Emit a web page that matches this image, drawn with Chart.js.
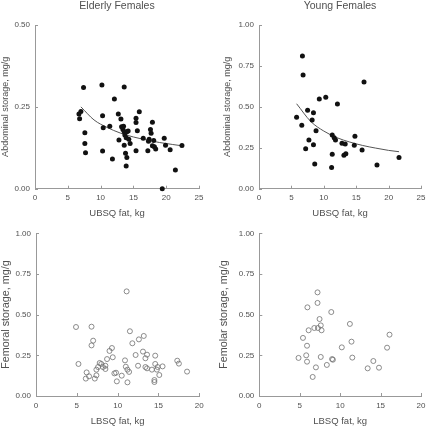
<!DOCTYPE html>
<html>
<head>
<meta charset="utf-8">
<script src="https://cdn.jsdelivr.net/npm/chart.js@4.4.1/dist/chart.umd.min.js"></script>
<style>
    html, body { margin: 0; padding: 0; background: #fff; }
    #wrap { position: relative; width: 427px; height: 427px; overflow: hidden; }
    .cell { position: absolute; }
</style>
</head>
<body>
<div id="wrap">
    <div class="cell" style="left:0;top:0;width:213px;height:222px;"><canvas id="elderlyAbd"></canvas></div>
    <div class="cell" style="left:213px;top:0;width:214px;height:222px;"><canvas id="youngAbd"></canvas></div>
    <div class="cell" style="left:0;top:222px;width:213px;height:205px;"><canvas id="elderlyFem"></canvas></div>
    <div class="cell" style="left:213px;top:222px;width:214px;height:205px;"><canvas id="youngFem"></canvas></div>
</div>
<script>
// Elderly females: UBSQ fat (kg) vs abdominal storage (mg/g)
const elderlyUbsq = [6.8, 7.4, 7.0, 6.7, 10.2, 12.1, 13.6, 10.3, 10.4, 7.6, 7.6, 7.7, 10.3, 11.4,
    12.7, 13.1, 13.2, 13.5, 13.4, 13.6, 13.7, 14.0, 14.2, 13.9, 14.3, 13.6, 12.8, 11.8, 13.8, 14.0,
    13.9, 14.5, 15.4, 15.4, 15.9, 15.6, 16.5, 15.4, 17.9, 17.6, 17.7, 17.4, 17.3, 18.1, 17.9, 18.2,
    18.4, 17.2, 19.7, 19.9, 20.6, 22.4, 21.4, 19.4];
const elderlyAbd = [0.214, 0.309, 0.236, 0.228, 0.317, 0.274, 0.311, 0.223, 0.186, 0.171, 0.138, 0.110,
    0.115, 0.191, 0.228, 0.213, 0.189, 0.191, 0.181, 0.174, 0.164, 0.174, 0.176, 0.156, 0.151, 0.133,
    0.149, 0.091, 0.108, 0.095, 0.069, 0.138, 0.202, 0.215, 0.235, 0.177, 0.154, 0.116, 0.203, 0.181,
    0.169, 0.151, 0.145, 0.147, 0.131, 0.128, 0.121, 0.116, 0.154, 0.133, 0.119, 0.132, 0.057, 0.000];
const elderlyFitX = [7, 9, 11, 13, 15, 17, 19, 21, 22.4];
const elderlyFitY = [0.25, 0.21, 0.187, 0.17, 0.158, 0.149, 0.141, 0.135, 0.131];

// Young females: UBSQ fat (kg) vs abdominal storage (mg/g)
const youngUbsq = [6.7, 6.8, 5.8, 6.6, 7.5, 8.4, 8.2, 8.8, 7.7, 7.2, 8.4, 8.6, 9.3, 10.3, 12.1,
    11.3, 11.6, 11.8, 11.3, 11.2, 12.8, 13.3, 13.1, 13.4, 14.8, 14.7, 16.2, 15.9, 18.2, 21.6];
const youngAbd = [0.81, 0.694, 0.436, 0.387, 0.479, 0.464, 0.42, 0.354, 0.297, 0.244, 0.269, 0.151,
    0.548, 0.558, 0.517, 0.328, 0.312, 0.297, 0.21, 0.13, 0.277, 0.273, 0.204, 0.214, 0.32, 0.265,
    0.652, 0.236, 0.145, 0.191];
const youngFitX = [5.8, 8, 10, 12, 14, 16, 18, 20, 21.6];
const youngFitY = [0.519, 0.41, 0.352, 0.312, 0.285, 0.264, 0.248, 0.234, 0.226];

// Elderly females: LBSQ fat (kg) vs femoral storage (mg/g)
const elderlyLbsq = [4.9, 5.2, 6.1, 6.2, 6.5, 6.8, 7.0, 6.8, 7.2, 7.4, 7.4, 7.6, 7.8, 8.0, 8.2, 8.5,
    8.5, 8.7, 9.0, 9.3, 9.4, 9.6, 9.8, 9.9, 10.5, 10.9, 11.0, 11.1, 11.2, 11.4, 11.2, 11.5, 11.8,
    12.2, 12.5, 12.6, 13.1, 13.2, 13.4, 13.4, 13.6, 13.6, 14.2, 14.6, 14.6, 14.5, 14.5, 14.8, 14.9,
    15.1, 15.5, 17.3, 17.5, 18.5];
const elderlyFem = [0.424, 0.197, 0.107, 0.145, 0.121, 0.426, 0.34, 0.311, 0.107, 0.127, 0.162, 0.178,
    0.203, 0.197, 0.178, 0.186, 0.166, 0.227, 0.277, 0.295, 0.238, 0.139, 0.143, 0.09, 0.125, 0.219,
    0.18, 0.643, 0.162, 0.148, 0.084, 0.398, 0.324, 0.252, 0.186, 0.348, 0.273, 0.369, 0.232, 0.178,
    0.254, 0.17, 0.162, 0.248, 0.197, 0.098, 0.086, 0.162, 0.178, 0.129, 0.182, 0.217, 0.199, 0.15];

// Young females: LBSQ fat (kg) vs femoral storage (mg/g)
const youngLbsq = [4.85, 5.4, 5.8, 5.9, 5.9, 5.95, 6.1, 6.6, 6.8, 7.0, 7.2, 7.2, 7.25, 7.45, 7.6,
    7.7, 7.6, 8.35, 8.9, 9.0, 9.1, 10.2, 11.2, 11.4, 11.5, 13.4, 14.1, 14.8, 15.8, 16.1];
const youngFem = [0.234, 0.357, 0.25, 0.309, 0.211, 0.545, 0.404, 0.117, 0.418, 0.176, 0.637, 0.572,
    0.418, 0.473, 0.434, 0.404, 0.24, 0.191, 0.516, 0.227, 0.223, 0.299, 0.443, 0.334, 0.236, 0.17,
    0.215, 0.174, 0.297, 0.377];

const ticksX25 = [0, 5, 10, 15, 20, 25];
const ticksX20 = [0, 5, 10, 15, 20];
const ticksY050 = [0, 0.25, 0.5];
const ticksY100 = [0, 0.25, 0.5, 0.75, 1];

const FONT = "'Liberation Sans', Arial, sans-serif";
const TEXT = "#505050";
const AXIS = "#999999";

// the library's outer tick marks are hidden; these short marks sit inside the axes
const innerTicks = {
    id: "innerTicks",
    afterDatasetsDraw(chart) {
        const ctx = chart.ctx;
        const xs = chart.scales.x;
        const ys = chart.scales.y;
        ctx.save();
        ctx.strokeStyle = AXIS;
        ctx.lineWidth = 1;
        ctx.beginPath();
        xs.ticks.forEach((t) => {
            const px = Math.round(xs.getPixelForValue(t.value)) + 0.5;
            ctx.moveTo(px, xs.top);
            ctx.lineTo(px, xs.top - 3);
        });
        ys.ticks.forEach((t) => {
            const py = Math.round(ys.getPixelForValue(t.value)) + 0.5;
            ctx.moveTo(ys.right, py);
            ctx.lineTo(ys.right + 3, py);
        });
        ctx.stroke();
        ctx.restore();
    },
};

function pairs(xs, ys) {
    return xs.map((x, i) => ({ x: x, y: ys[i] }));
}

function dotSet(xs, ys, open) {
    return {
        data: pairs(xs, ys),
        showLine: false,
        pointRadius: 2.5,
        pointBackgroundColor: open ? "rgba(255,255,255,0)" : "#111",
        pointBorderColor: open ? "#707070" : "#111",
        pointBorderWidth: open ? 0.8 : 0,
        clip: false,
    };
}

function fitSet(xs, ys) {
    return {
        data: pairs(xs, ys),
        showLine: true,
        pointRadius: 0,
        borderColor: "#555",
        borderWidth: 1,
        cubicInterpolationMode: "monotone",
        fill: false,
    };
}

function panel(id, p) {
    new Chart(document.getElementById(id), {
        type: "scatter",
        data: { datasets: p.datasets },
        plugins: [innerTicks],
        options: {
            responsive: true,
            maintainAspectRatio: false,
            animation: false,
            events: [],
            layout: { padding: p.padding },
            plugins: {
                legend: { display: false },
                tooltip: { enabled: false },
                title: {
                    display: p.title !== "",
                    text: p.title,
                    fullSize: false,
                    color: TEXT,
                    font: { family: FONT, size: 10.5, weight: "normal" },
                    padding: { top: 0, bottom: 12.4 },
                },
            },
            scales: {
                x: {
                    type: "linear",
                    position: "bottom",
                    min: 0,
                    max: p.xTicks[p.xTicks.length - 1],
                    afterBuildTicks: (s) => { s.ticks = p.xTicks.map((v) => ({ value: v })); },
                    afterFit: (s) => { s.height = p.xHeight; },
                    ticks: {
                        color: TEXT,
                        font: { family: FONT, size: 8 },
                        padding: 1.5,
                        maxRotation: 0,
                        callback: (v) => String(v),
                    },
                    grid: { drawOnChartArea: false, drawTicks: true, tickLength: 3, color: AXIS, tickColor: "rgba(0,0,0,0)" },
                    border: { color: AXIS, width: 1 },
                    title: {
                        display: true,
                        text: p.xTitle,
                        color: TEXT,
                        font: { family: FONT, size: 9.5 },
                        padding: { top: 0, bottom: p.xTitlePad },
                    },
                },
                y: {
                    type: "linear",
                    position: "left",
                    min: 0,
                    max: p.yTicks[p.yTicks.length - 1],
                    afterBuildTicks: (s) => { s.ticks = p.yTicks.map((v) => ({ value: v })); },
                    afterFit: (s) => { s.width = p.yWidth; },
                    ticks: {
                        color: TEXT,
                        font: { family: FONT, size: 8 },
                        padding: 2,
                        callback: (v) => v.toFixed(2),
                    },
                    grid: { drawOnChartArea: false, drawTicks: true, tickLength: 3, color: AXIS, tickColor: "rgba(0,0,0,0)" },
                    border: { color: AXIS, width: 1 },
                    title: {
                        display: true,
                        text: p.yTitle,
                        color: TEXT,
                        font: { family: FONT, size: p.yTitleSize },
                        padding: { top: p.yTitlePad, bottom: 0 },
                    },
                },
            },
        },
    });
}

panel("elderlyAbd", {
    title: "Elderly Females",
    datasets: [dotSet(elderlyUbsq, elderlyAbd, false), fitSet(elderlyFitX, elderlyFitY)],
    padding: { left: 0, right: 14, top: 0, bottom: 0 },
    xTicks: ticksX25, yTicks: ticksY050,
    xHeight: 33.3, yWidth: 35,
    xTitle: "UBSQ fat, kg", xTitlePad: 3.3,
    yTitle: "Abdominal storage, mg/g", yTitleSize: 9, yTitlePad: 0.6,
});

panel("youngAbd", {
    title: "Young Females",
    datasets: [dotSet(youngUbsq, youngAbd, false), fitSet(youngFitX, youngFitY)],
    padding: { left: 0, right: 4, top: 0, bottom: 0 },
    xTicks: ticksX25, yTicks: ticksY100,
    xHeight: 33.3, yWidth: 46,
    xTitle: "UBSQ fat, kg", xTitlePad: 3.3,
    yTitle: "Abdominal storage, mg/g", yTitleSize: 9, yTitlePad: 9.1,
});

panel("elderlyFem", {
    title: "",
    datasets: [dotSet(elderlyLbsq, elderlyFem, true)],
    padding: { left: 0, right: 13.7, top: 11.3, bottom: 0 },
    xTicks: ticksX20, yTicks: ticksY100,
    xHeight: 31, yWidth: 36,
    xTitle: "LBSQ fat, kg", xTitlePad: 0,
    yTitle: "Femoral storage, mg/g", yTitleSize: 10.8, yTitlePad: 0,
});

panel("youngFem", {
    title: "",
    datasets: [dotSet(youngLbsq, youngFem, true)],
    padding: { left: 0, right: 4, top: 11.3, bottom: 0 },
    xTicks: ticksX20, yTicks: ticksY100,
    xHeight: 31, yWidth: 46.3,
    xTitle: "LBSQ fat, kg", xTitlePad: 0,
    yTitle: "Femolar storage, mg/g", yTitleSize: 10.8, yTitlePad: 4.9,
});
</script>
</body>
</html>
